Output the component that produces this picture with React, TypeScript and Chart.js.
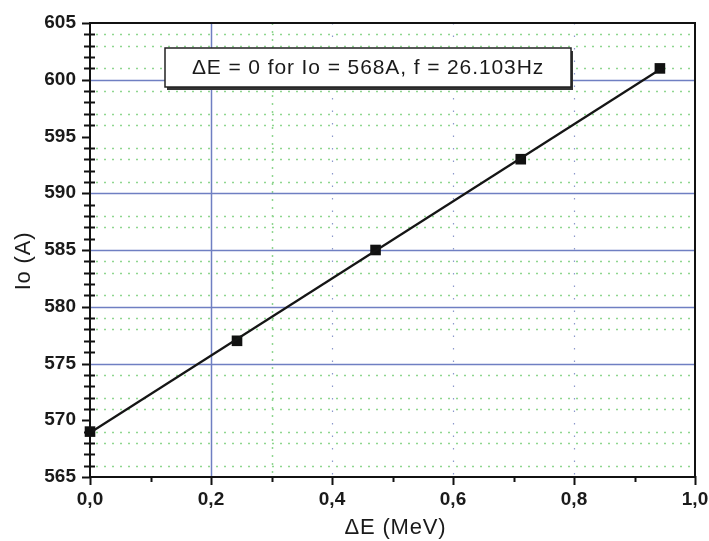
import { useEffect, useRef } from 'react';
import { Chart, registerables } from 'chart.js';

Chart.register(...registerables);

// ---- data ----
const deltaE = [0.0, 0.243, 0.472, 0.712, 0.942];
const currentIo = [569, 577, 585, 593, 601];
const fitDeltaE = [0.0, 0.942];
const fitIo = [568.9, 600.9];

const yMajorGrid = [575, 580, 585, 590, 600];
const yDottedGrid = [604, 603, 601, 599, 597, 596, 594, 593, 591, 588, 587, 584, 583, 581, 579, 578, 574, 572, 571, 569, 568, 566];
const xMajorGrid = [0.2];
const xGreenDotted = [0.3];
const xBlueDotted = [0.4, 0.6, 0.8];

const annotationText = 'ΔE = 0 for Io = 568A, f = 26.103Hz';
const xTitle = 'ΔE (MeV)';
const yTitle = 'Io (A)';

const TICK_FONT = '"Liberation Sans Narrow", "Liberation Sans", Arial, sans-serif';
const TEXT_FONT = '"Liberation Sans", Arial, sans-serif';

const gridPlugin = {
  id: 'customGrid',
  beforeDatasetsDraw(chart: any) {
    const { ctx, chartArea: a, scales } = chart;
    const x = scales.x;
    const y = scales.y;
    ctx.save();
    // green dotted horizontal lines
    ctx.strokeStyle = '#8fd68f';
    ctx.lineWidth = 1.5;
    ctx.setLineDash([2, 6]);
    for (const v of yDottedGrid) {
      const py = Math.round(y.getPixelForValue(v)) + 0.5;
      ctx.beginPath();
      ctx.moveTo(a.left + 6, py);
      ctx.lineTo(a.right, py);
      ctx.stroke();
    }
    for (const v of xGreenDotted) {
      const px = Math.round(x.getPixelForValue(v)) + 0.5;
      ctx.beginPath();
      ctx.moveTo(px, a.top);
      ctx.lineTo(px, a.bottom);
      ctx.stroke();
    }
    // sparse blue dotted verticals
    ctx.strokeStyle = '#8c98cc';
    ctx.lineWidth = 1.2;
    ctx.setLineDash([1.5, 11]);
    for (const v of xBlueDotted) {
      const px = Math.round(x.getPixelForValue(v)) + 0.5;
      ctx.beginPath();
      ctx.moveTo(px, a.top);
      ctx.lineTo(px, a.bottom);
      ctx.stroke();
    }
    // blue solid major lines
    ctx.setLineDash([]);
    ctx.strokeStyle = '#6f7fc2';
    ctx.lineWidth = 1.5;
    for (const v of yMajorGrid) {
      const py = Math.round(y.getPixelForValue(v)) + 0.5;
      ctx.beginPath();
      ctx.moveTo(a.left, py);
      ctx.lineTo(a.right, py);
      ctx.stroke();
    }
    for (const v of xMajorGrid) {
      const px = Math.round(x.getPixelForValue(v)) + 0.5;
      ctx.beginPath();
      ctx.moveTo(px, a.top);
      ctx.lineTo(px, a.bottom);
      ctx.stroke();
    }
    // annotation box
    const bx = a.left + 75;
    const by = a.top + 25;
    const bw = 406;
    const bh = 39;
    ctx.fillStyle = '#333';
    ctx.fillRect(bx + 2, by + 3, bw, bh);
    ctx.fillStyle = '#fff';
    ctx.fillRect(bx, by, bw, bh);
    ctx.strokeStyle = '#222';
    ctx.lineWidth = 1.5;
    ctx.strokeRect(bx, by, bw, bh);
    ctx.fillStyle = '#1a1a1a';
    ctx.font = `21px ${TEXT_FONT}`;
    (ctx as any).letterSpacing = '0.9px';
    ctx.textAlign = 'center';
    ctx.textBaseline = 'middle';
    ctx.fillText(annotationText, bx + bw / 2, by + bh / 2 + 1);
    ctx.restore();
  },
  afterDraw(chart: any) {
    const { ctx, chartArea: a, scales } = chart;
    const x = scales.x;
    const y = scales.y;
    ctx.save();
    ctx.strokeStyle = '#111';
    ctx.lineWidth = 2;
    ctx.strokeRect(a.left, a.top, a.right - a.left, a.bottom - a.top);
    // y ticks
    for (let v = y.min; v <= y.max; v += 1) {
      const py = Math.round(y.getPixelForValue(v)) + 0.5;
      ctx.beginPath();
      if (v % 5 === 0) {
        ctx.moveTo(a.left - 8, py);
        ctx.lineTo(a.left + 1, py);
      } else {
        ctx.moveTo(a.left - 6, py);
        ctx.lineTo(a.left + 5, py);
      }
      ctx.stroke();
    }
    // x ticks
    for (let i = 0; i <= 10; i++) {
      const px = Math.round(x.getPixelForValue(i / 10)) + 0.5;
      ctx.beginPath();
      ctx.moveTo(px, a.bottom - 1);
      ctx.lineTo(px, a.bottom + (i % 2 === 0 ? 8 : 5));
      ctx.stroke();
    }
    // axis titles
    ctx.fillStyle = '#1a1a1a';
    ctx.font = `22px ${TEXT_FONT}`;
    (ctx as any).letterSpacing = '0.8px';
    ctx.textAlign = 'center';
    ctx.textBaseline = 'middle';
    ctx.fillText(xTitle, (a.left + a.right) / 2 + 3, 528);
    ctx.translate(24, (a.top + a.bottom) / 2 + 11);
    ctx.rotate(-Math.PI / 2);
    ctx.fillText(yTitle, 0, 0);
    ctx.restore();
  },
};

export default function App() {
  const ref = useRef<HTMLCanvasElement | null>(null);
  useEffect(() => {
    if (!ref.current) return;
    const chart = new Chart(ref.current, {
      type: 'scatter',
      data: {
        datasets: [
          {
            label: 'fit',
            data: fitDeltaE.map((v, i) => ({ x: v, y: fitIo[i] })),
            showLine: true,
            borderColor: '#151515',
            borderWidth: 2.2,
            pointRadius: 0,
            clip: false,
          },
          {
            label: 'Io',
            data: deltaE.map((v, i) => ({ x: v, y: currentIo[i] })),
            showLine: false,
            pointStyle: 'rect',
            pointRadius: 7.5,
            backgroundColor: '#111',
            borderColor: '#111',
            borderWidth: 0,
            clip: false,
          },
        ],
      },
      options: {
        animation: false,
        responsive: true,
        maintainAspectRatio: false,
        layout: { padding: { top: 23, right: 14, left: 0, bottom: 0 } },
        plugins: { legend: { display: false }, tooltip: { enabled: false } },
        scales: {
          x: {
            type: 'linear',
            min: 0,
            max: 1,
            grid: { display: false, drawTicks: false },
            border: { display: false },
            ticks: {
              stepSize: 0.2,
              padding: 11,
              color: '#1a1a1a',
              font: { family: TICK_FONT, size: 19, weight: 'bold' },
              callback: (v: any) => Number(v).toFixed(1).replace('.', ','),
            },
            title: { display: false },
            afterFit: (s: any) => {
              s.height = 64;
              s.paddingLeft = 0;
              s.paddingRight = 0;
            },
          },
          y: {
            type: 'linear',
            min: 565,
            max: 605,
            grid: { display: false, drawTicks: false },
            border: { display: false },
            ticks: {
              stepSize: 5,
              padding: 14,
              color: '#1a1a1a',
              font: { family: TICK_FONT, size: 19, weight: 'bold' },
            },
            title: { display: false },
            afterFit: (s: any) => {
              s.width = 90;
              s.paddingTop = 0;
              s.paddingBottom = 0;
            },
          },
        },
      },
      plugins: [gridPlugin],
    });
    return () => chart.destroy();
  }, []);
  return (
    <div style={{ position: 'fixed', left: 0, top: 0, width: 709, height: 541, background: '#fff' }}>
      <canvas ref={ref} />
    </div>
  );
}
